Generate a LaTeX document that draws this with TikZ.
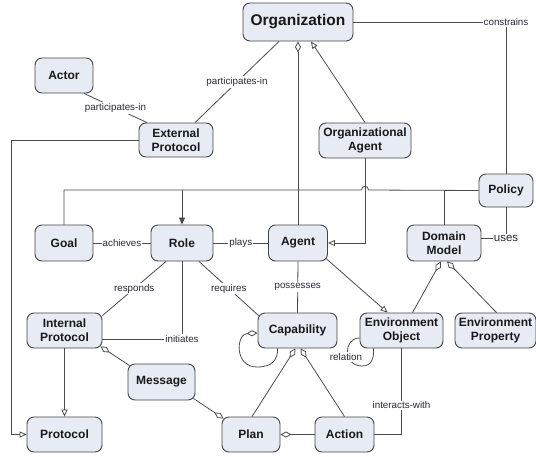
\documentclass[tikz,border=0pt]{standalone}
\usepackage{fontspec}
\setmainfont{Liberation Sans}
\usetikzlibrary{arrows.meta,calc}
\definecolor{boxfill}{RGB}{231,236,244}
\definecolor{boxline}{RGB}{68,68,68}
\definecolor{wirecol}{RGB}{75,75,75}
\definecolor{lbltext}{RGB}{40,40,60}

\begin{document}
\begin{tikzpicture}[x=1pt,y=-1pt,
  cls/.style={draw=boxline, fill=boxfill, rounded corners=7pt, line width=0.9pt,
              inner sep=0pt, align=center, text=black!90,
              font=\fontsize{12}{14}\selectfont\bfseries},
  lbl/.style={fill=white, inner sep=1pt, text=lbltext,
              font=\fontsize{9.8}{11}\selectfont},
  wire/.style={draw=wirecol, line width=0.8pt},
  gen/.style={-{Triangle[open,length=7pt,width=6pt]}},
  agg/.style={{Diamond[open,length=11pt,width=6pt]}-},
  aggend/.style={-{Diamond[open,length=11pt,width=6pt]}},
  nav/.style={-{Triangle[length=7pt,width=6pt]}},
]
\fill[white] (0,0) rectangle (536,456);
\useasboundingbox (0,0) rectangle (536,456);

% classes
\node[cls, minimum width=110pt, minimum height=38pt,
      font=\fontsize{15.5}{18}\selectfont\bfseries] (org) at (298,22) {Organization};
\node[cls, minimum width=58pt, minimum height=35pt] (actor) at (64,75.5) {Actor};
\node[cls, minimum width=74pt, minimum height=34pt] (extp) at (176,140) {External\\Protocol};
\node[cls, minimum width=92pt, minimum height=35pt] (orga) at (365,140.5) {Organizational\\Agent};
\node[cls, minimum width=54pt, minimum height=33pt] (policy) at (506,190.5) {Policy};
\node[cls, minimum width=58pt, minimum height=36pt] (goal) at (64,243) {Goal};
\node[cls, minimum width=62pt, minimum height=36pt] (role) at (182,243) {Role};
\node[cls, minimum width=59pt, minimum height=36pt] (agent) at (298,243) {Agent};
\node[cls, minimum width=74pt, minimum height=36pt] (dm) at (444,243) {Domain\\Model};
\node[cls, minimum width=75pt, minimum height=35pt] (intp) at (64.5,330.5) {Internal\\Protocol};
\node[cls, minimum width=79pt, minimum height=35pt] (cap) at (297.5,330.5) {Capability};
\node[cls, minimum width=83pt, minimum height=35pt] (envo) at (401.5,330.5) {Environment\\Object};
\node[cls, minimum width=81pt, minimum height=35pt] (envp) at (495.5,330.5) {Environment\\Property};
\node[cls, minimum width=67pt, minimum height=36pt] (msg) at (161.5,382) {Message};
\node[cls, minimum width=75pt, minimum height=35pt] (prot) at (64.5,434.5) {Protocol};
\node[cls, minimum width=58pt, minimum height=35pt] (plan) at (251,434.5) {Plan};
\node[cls, minimum width=59pt, minimum height=35pt] (action) at (344.5,434.5) {Action};

% associations around the organization
\draw[wire] ($(actor.south)+(20,0)$) -- node[lbl]{participates-in} ($(extp.north)+(-29,0)$);
\draw[wire] ($(org.south)+(-19,0)$) -- node[lbl]{participates-in} ($(extp.north)+(19,0)$);
\draw[wire, agg] (org.south) -- (agent.north);
\draw[wire, gen] (orga.north) -- ($(org.south)+(13,0)$);
\draw[wire] (org.east) -- (506,22) node[lbl]{constrains} -- (policy.north);
\draw[wire, gen] (extp.west) -- ++(-127,0) |- (prot.west);

% policy constrains goals, roles and domain models
\draw[wire] (policy.west) -- (368.5,190)
  .. controls (368.5,185) and (361.5,185) .. (361.5,190) -- (64,190) -- (goal.north);
\draw[wire, nav] (182,190) -- (role.north);
\draw[wire] (444,190) -- (dm.north);
\draw[wire, gen] (orga.south) |- (agent.east);
\draw[wire] (policy.south) -- (506,238)
  node[lbl, font=\fontsize{11.5}{13}\selectfont]{uses} -- (dm.east |- 0,238);

% middle row
\draw[wire] (goal.east) -- node[lbl]{achieves} (role.west);
\draw[wire] (role.east) -- node[lbl]{plays} (agent.west);
\draw[wire] (agent.south) -- node[lbl]{possesses} (cap.north);
\draw[wire, gen] ($(agent.south east)+(-2,-3)$) -- ($(envo.north west)+(28,0)$);
\draw[wire, agg] ($(dm.south)+(-3,0)$) -- ($(envo.north)+(11,0)$);
\draw[wire, agg] ($(dm.south)+(3,0)$) -- ($(envp.north)+(1,0)$);

% role to protocols and capabilities
\draw[wire] ($(role.south)+(-16,0)$) -- node[lbl]{responds} ($(intp.north east)+(0,3)$);
\draw[wire] ($(role.south)+(17,0)$) -- node[lbl]{requires} ($(cap.north west)+(1,3)$);
\draw[wire] (role.south) -- (182,339) node[lbl]{initiates} -- (intp.east |- 0,339);

% lower part
\draw[wire, gen] (intp.south) -- (prot.north);
\draw[wire, agg] ($(intp.south east)+(-2,-2)$) -- ($(msg.north west)+(2,2)$);
\draw[wire, aggend] ($(msg.south east)+(-2,-2)$) -- ($(plan.north west)+(2,2)$);
\draw[wire, agg] ($(cap.south)+(-2,0)$) -- ($(plan.north)+(1,0)$);
\draw[wire, agg] ($(cap.south)+(3,0)$) -- (action.north);
\draw[wire, agg] (plan.east) -- (action.west);
\draw[wire] (envo.south) |- node[lbl, pos=0.33]{interacts-with} (action.east);

% self associations
\draw[wire, agg] ($(cap.west)+(0,2.5)$) .. controls (236,334) and (234,367) .. (257,367)
  .. controls (272,367) and (278,360) .. ($(cap.south)+(-20,0)$);
\draw[wire] ($(envo.west)+(0,7.5)$) .. controls (343,338) and (343,366) .. (362,366)
  .. controls (372,366) and (374,358) .. ($(envo.south)+(-28,0)$);
\node[lbl] (rel) at (346,357) {relation};
\end{tikzpicture}
\end{document}
